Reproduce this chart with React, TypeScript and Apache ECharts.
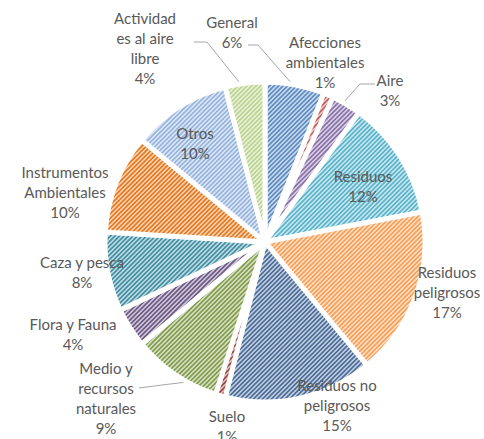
import React, { useEffect, useRef } from 'react';
import * as echarts from 'echarts';

const categories = [
  'General', 'Afecciones ambientales', 'Aire', 'Residuos', 'Residuos peligrosos',
  'Residuos no peligrosos', 'Suelo', 'Medio y recursos naturales', 'Flora y Fauna',
  'Caza y pesca', 'Instrumentos Ambientales', 'Otros', 'Actividades al aire libre',
];
const labelTexts = [
  'General', 'Afecciones\nambientales', 'Aire', 'Residuos', 'Residuos\npeligrosos',
  'Residuos no\npeligrosos', 'Suelo', 'Medio y\nrecursos\nnaturales', 'Flora y Fauna',
  'Caza y pesca', 'Instrumentos\nAmbientales', 'Otros', 'Actividad\nes al aire\nlibre',
];
const values = [6, 1, 3, 12, 17, 15, 1, 9, 4, 8, 10, 10, 4];
const colors = [
  '#4F81BD', '#C0504D', '#8064A2', '#4BACC6', '#F79646',
  '#3A5F92', '#943634', '#77933C', '#604A7B', '#31859C',
  '#E46C0A', '#8DAEDB', '#B5CF85',
];
// label block centres
const labelPos: [number, number][] = [
  [232, 32], [325, 62], [390, 90], [363, 186], [447, 292],
  [337, 405], [227, 426], [106, 398], [73, 334], [82, 272],
  [65, 192], [195, 143], [145, 48],
];
const leaderLines: Record<number, [number, number][]> = {
  0: [[293, 85], [258, 45], [248, 45]],
  2: [[343, 103], [360, 84], [375, 84]],
  7: [[187, 382], [162, 385], [139, 388]],
  12: [[243, 87], [207, 42], [194, 42]],
};

function mix(hex: string, t: number) {
  const n = parseInt(hex.slice(1), 16);
  const r = (n >> 16) & 255, g = (n >> 8) & 255, b = n & 255;
  const f = (v: number) => Math.round(v + (255 - v) * t);
  return `rgb(${f(r)},${f(g)},${f(b)})`;
}

function makePattern(hex: string) {
  const s = 9;
  const c = document.createElement('canvas');
  c.width = s; c.height = s;
  const ctx = c.getContext('2d')!;
  ctx.fillStyle = mix(hex, 0.72);
  ctx.fillRect(0, 0, s, s);
  ctx.strokeStyle = mix(hex, 0.08);
  ctx.lineWidth = 1.6;
  ctx.beginPath();
  for (const o of [-9, -4.5, 0, 4.5, 9]) {
    ctx.moveTo(o - 1, s + 1);
    ctx.lineTo(o + s + 1, -1);
  }
  ctx.stroke();
  return { image: c, repeat: 'repeat', imageWidth: s, imageHeight: s };
}

export default function App() {
  const ref = useRef<HTMLDivElement>(null);
  useEffect(() => {
    document.body.style.margin = '0';
    const chart = echarts.init(ref.current!, null, { renderer: 'svg' });
    const data = categories.map((name, i) => ({
      name,
      value: values[i],
      itemStyle: { color: makePattern(colors[i]) as any },
      labelLine: { show: !!leaderLines[i] },
    }));
    chart.setOption({
      animation: false,
      backgroundColor: '#ffffff',
      series: [
        {
          type: 'pie',
          center: [265, 242],
          radius: [0, 160],
          startAngle: 90,
          clockwise: true,
          avoidLabelOverlap: false,
          itemStyle: { borderColor: '#ffffff', borderWidth: 5 },
          label: {
            show: true,
            position: 'outside',
            color: '#595959',
            fontFamily: 'Lato',
            fontSize: 15,
            lineHeight: 20,
            align: 'center',
            formatter: (p: any) => `${labelTexts[p.dataIndex]}\n${Math.round(p.value)}%`,
          },
          labelLine: { lineStyle: { color: '#A6A6A6', width: 1 } },
          emphasis: { disabled: true },
          labelLayout: (p: any) => {
            const i = p.dataIndex;
            const pos = labelPos[i];
            const res: any = { x: pos[0], y: pos[1], align: 'center', verticalAlign: 'middle' };
            if (leaderLines[i]) res.labelLinePoints = leaderLines[i];
            return res;
          },
          data,
        },
      ],
    });
    return () => chart.dispose();
  }, []);
  return <div ref={ref} style={{ width: 484, height: 439 }} />;
}
